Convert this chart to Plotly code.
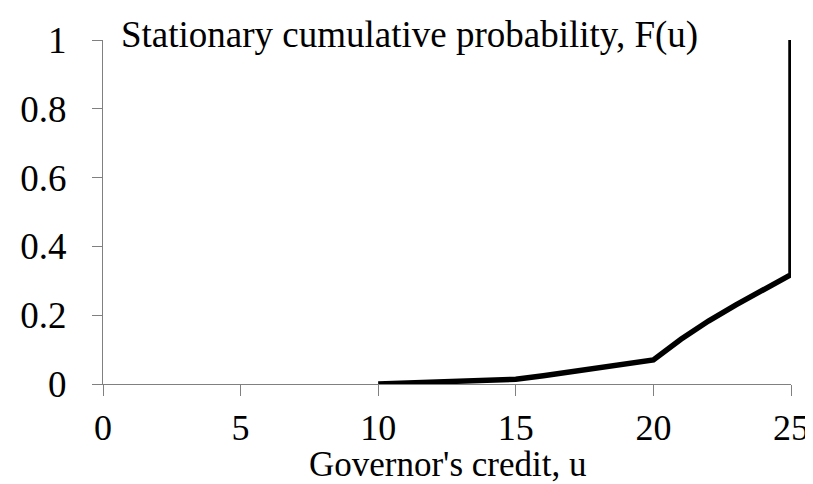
import plotly.graph_objects as go

u_vals = [10, 11, 12, 13, 14, 15, 16, 17, 18, 19, 20, 21, 22, 23, 24, 25, 25]
F_vals = [0, 0.002, 0.004, 0.007, 0.010, 0.014, 0.024, 0.036, 0.046, 0.058, 0.070,
          0.130, 0.183, 0.230, 0.274, 0.318, 1.0]

x_ticks = [0, 5, 10, 15, 20, 25]
y_ticks = [0, 0.2, 0.4, 0.6, 0.8, 1]
y_tick_text = ["0", "0.2", "0.4", "0.6", "0.8", "1"]

FONT = "Liberation Serif, Times New Roman, serif"

fig = go.Figure()
fig.add_trace(go.Scatter(
    x=u_vals, y=F_vals, mode="lines",
    line=dict(color="black", width=5.5),
    cliponaxis=False, showlegend=False, hoverinfo="skip",
))

fig.update_layout(
    width=813, height=484,
    margin=dict(l=93, r=21, t=32, b=108),
    paper_bgcolor="white", plot_bgcolor="white",
    font=dict(family=FONT, size=37, color="black"),
    title=dict(
        text="Stationary cumulative probability, F(u)",
        x=113 / 813, xref="container", xanchor="left",
        y=1 - 26 / 484, yref="container", yanchor="middle",
        font=dict(family=FONT, size=37, color="black"),
    ),
    xaxis=dict(
        range=[0, 25], tickvals=x_ticks, ticktext=[str(t) for t in x_ticks],
        showgrid=False, zeroline=False,
        showline=True, linecolor="#808080", linewidth=1,
        ticks="outside", ticklen=11, tickcolor="#808080", tickwidth=1,
        ticklabelstandoff=1,
        tickfont=dict(family=FONT, size=36, color="black"),
    ),
    yaxis=dict(
        range=[0, 1], tickvals=y_ticks, ticktext=y_tick_text,
        showgrid=False, zeroline=False,
        showline=True, linecolor="#808080", linewidth=1,
        ticks="outside", ticklen=10, tickcolor="#808080", tickwidth=1,
        ticklabelstandoff=18,
    ),
    annotations=[dict(
        text="Governor's credit, u", showarrow=False,
        xref="paper", x=0.5, xanchor="center",
        yref="paper", y=-0.234, yanchor="middle",
        font=dict(family=FONT, size=35, color="black"),
    )],
)

fig.write_html("out.html")
